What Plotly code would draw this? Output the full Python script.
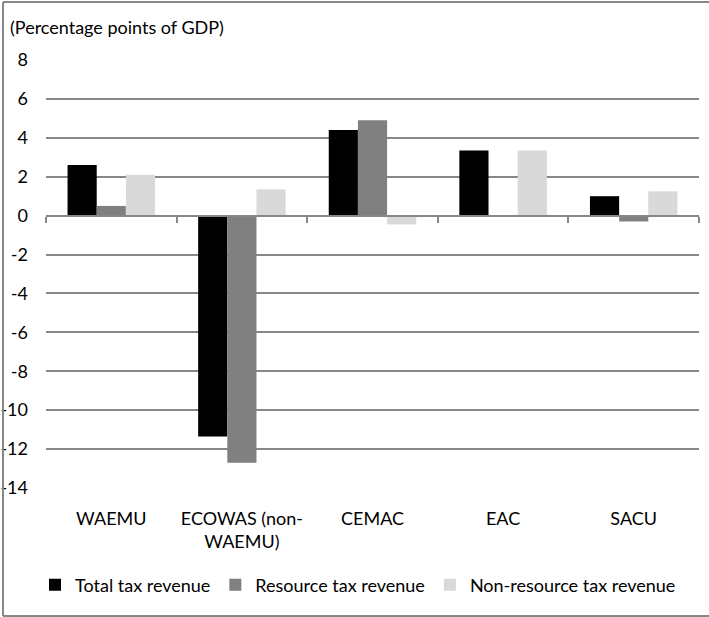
import plotly.graph_objects as go

categories = ["WAEMU", "ECOWAS (non-<br>WAEMU)", "CEMAC", "EAC", "SACU"]
series_names = ["Total tax revenue", "Resource tax revenue", "Non-resource tax revenue"]
total_tax = [2.6, -11.35, 4.4, 3.35, 1.0]
resource_tax = [0.5, -12.7, 4.9, None, -0.3]
nonresource_tax = [2.1, 1.35, -0.45, 3.35, 1.25]
y_ticks = [8, 6, 4, 2, 0, -2, -4, -6, -8, -10, -12, -14]
y_tick_labels = [str(v) for v in y_ticks]

colors = ["#000000", "#808080", "#d9d9d9"]
FONT = "Lato"
FS = 18
GRID = "#878787"

fig = go.Figure()
for name, vals, col in zip(series_names, [total_tax, resource_tax, nonresource_tax], colors):
    fig.add_trace(go.Bar(x=categories, y=vals, name=name, marker=dict(color=col, line=dict(width=0))))

# invisible trace to carry the zero-level category axis with boundary ticks
fig.add_trace(go.Bar(x=categories, y=[0] * len(categories), xaxis="x2", showlegend=False,
                     hoverinfo="skip", marker=dict(color="rgba(0,0,0,0)")))

y0, y1 = -14, 8
zero_frac = (0 - y0) / (y1 - y0)

L, R, T, B = 46, 10, 60, 129
PW, PH = 709 - L - R, 617 - T - B


def px_x(x):
    return (x - L) / PW


def px_y(y):
    return (617 - B - y) / PH


border = dict(color=GRID, width=2)
fig.update_layout(
    width=709, height=617,
    margin=dict(l=L, r=R, t=T, b=B),
    paper_bgcolor="white", plot_bgcolor="white",
    barmode="group", bargap=0.33, bargroupgap=0,
    font=dict(family=FONT, size=FS, color="black"),
    title=dict(text="(Percentage points of GDP)", x=10 / 709, xanchor="left", xref="container",
               y=1 - 28 / 617, yanchor="middle", yref="container",
               font=dict(family=FONT, size=FS, color="black")),
    xaxis=dict(type="category", showgrid=False, showline=False, ticks="", zeroline=False,
               ticklabelstandoff=18, automargin=False,
               tickfont=dict(family=FONT, size=FS, color="black")),
    xaxis2=dict(type="category", overlaying="x", anchor="free", position=zero_frac, side="bottom",
                showgrid=False, showline=True, linecolor=GRID, linewidth=2,
                ticks="outside", tickson="boundaries", ticklen=6, tickwidth=2, tickcolor=GRID,
                showticklabels=False, matches="x", automargin=False),
    yaxis=dict(range=[y0, y1], tickvals=y_ticks, ticktext=y_tick_labels,
               showgrid=True, gridcolor=GRID, gridwidth=2, automargin=False,
               zeroline=False, showline=False, ticks="", ticklabelstandoff=17,
               tickfont=dict(family=FONT, size=FS, color="black")),
    legend=dict(orientation="h", x=358 / 709, xanchor="center", xref="container",
                y=1 - 585 / 617, yanchor="middle", yref="container",
                font=dict(family=FONT, size=FS, color="black"), itemwidth=30,
                traceorder="normal"),
    showlegend=True,
    shapes=[
        dict(type="line", xref="paper", yref="paper", x0=px_x(3), x1=px_x(3), y0=px_y(2), y1=px_y(616), line=border),
        dict(type="line", xref="paper", yref="paper", x0=px_x(3), x1=px_x(712), y0=px_y(2), y1=px_y(2), line=border),
        dict(type="line", xref="paper", yref="paper", x0=px_x(3), x1=px_x(712), y0=px_y(616), y1=px_y(616), line=border),
    ],
)

fig.write_html("out.html", config={"displayModeBar": False},
               post_script="document.body.style.margin='0';document.body.style.overflow='hidden';")
